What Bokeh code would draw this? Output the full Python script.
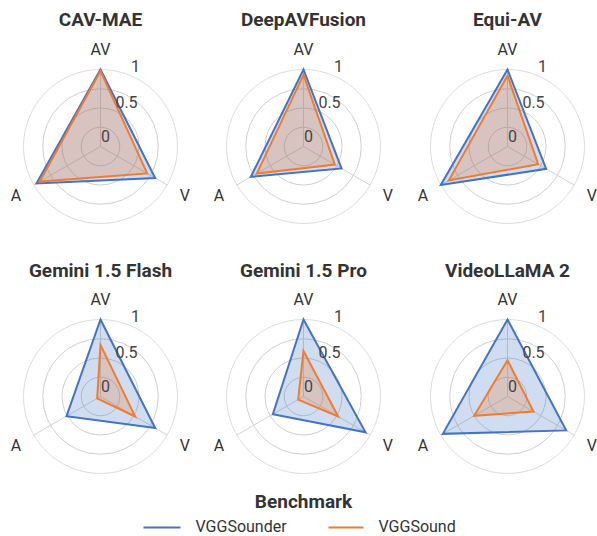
import numpy as np
from bokeh.plotting import figure
from bokeh.models import Range1d
from bokeh.core.properties import value
from bokeh.embed import file_html
from bokeh.resources import INLINE

# ---------------- data ----------------
models = ["CAV-MAE", "DeepAVFusion", "Equi-AV",
          "Gemini 1.5 Flash", "Gemini 1.5 Pro", "VideoLLaMA 2"]
axis_names = ["AV", "V", "A"]
# values in order AV, V, A
vggsounder = [
    [1.00, 0.82, 0.96],
    [1.00, 0.57, 0.79],
    [1.00, 0.58, 1.00],
    [1.00, 0.82, 0.51],
    [1.00, 0.93, 0.46],
    [1.00, 0.88, 0.97],
]
vggsound = [
    [0.98, 0.70, 0.91],
    [0.93, 0.47, 0.70],
    [0.92, 0.46, 0.88],
    [0.67, 0.52, 0.05],
    [0.59, 0.52, 0.08],
    [0.47, 0.39, 0.50],
]
series_names = ["VGGSounder", "VGGSound"]
legend_title = "Benchmark"
tick_values = [0, 0.5, 1]
tick_labels = ["0", "0.5", "1"]
grid_values = [0.25, 0.5, 0.75, 1.0]

# ---------------- style / layout ----------------
W, H = 597, 536
R = 77.0
col_x = [100, 303, 507]
row_y = [146, 396]
title_y = [19, 270]
angles = np.deg2rad([90, -30, 210])
label_r = 97.5
tick_off = [(5, -11), (26, -45), (35, -81)]
colors = ["#4472C4", "#ED7D31"]
FONT = "Roboto"
TXT = "#333333"

p = figure(width=W, height=H, x_range=Range1d(0, W), y_range=Range1d(H, 0),
           output_backend="svg", toolbar_location=None, min_border=0)
p.axis.visible = False
p.grid.visible = False
p.outline_line_color = None
p.background_fill_color = "white"
p.border_fill_color = "white"


def to_xy(cx, cy, vals):
    vals = np.asarray(vals, dtype=float)
    xs = cx + vals * R * np.cos(angles)
    ys = cy - vals * R * np.sin(angles)
    return list(xs), list(ys)


for i, name in enumerate(models):
    cx = col_x[i % 3]
    cy = row_y[i // 3]
    # grid circles
    for g in grid_values:
        p.circle(x=[cx], y=[cy], radius=g * R, fill_color=None,
                 line_color="#dddddd" if g == 1.0 else "#cfcfcf", line_width=1)
    # spokes
    ex, ey = to_xy(cx, cy, [1, 1, 1])
    p.segment(x0=[cx] * 3, y0=[cy] * 3, x1=ex, y1=ey, line_color="#d2d2d2", line_width=1)
    # series
    for vals, col in ((vggsounder[i], colors[0]), (vggsound[i], colors[1])):
        xs, ys = to_xy(cx, cy, vals)
        p.patch(xs + [xs[0]], ys + [ys[0]], fill_color=col, fill_alpha=0.25,
                line_color=col, line_width=2, line_join="miter")
    # axis labels
    lx = [cx + label_r * np.cos(a) for a in angles]
    ly = [cy - label_r * np.sin(a) for a in angles]
    p.text(x=lx, y=ly, text=axis_names, text_font=value(FONT), text_font_size="16px",
           text_align="center", text_baseline="middle", text_color=TXT)
    # tick labels
    tx = [cx + o[0] for o in tick_off]
    ty = [cy + o[1] for o in tick_off]
    p.text(x=tx, y=ty, text=tick_labels, text_font=value(FONT), text_font_size="16px",
           text_align="center", text_baseline="middle", text_color="#444444")
    # title
    p.text(x=[cx], y=[title_y[i // 3]], text=[name], text_font=value(FONT),
           text_font_size="19px", text_font_style="bold", text_align="center",
           text_baseline="middle", text_color=TXT)

# legend (manual, centered title)
p.text(x=[303], y=[501], text=[legend_title], text_font=value(FONT), text_font_size="19px",
       text_font_style="bold", text_align="center", text_baseline="middle", text_color=TXT)
leg_y = 526
leg_line_x = [(143, 180), (328, 363)]
leg_text_x = [195, 378]
for k in range(2):
    p.segment(x0=[leg_line_x[k][0]], y0=[leg_y + 1], x1=[leg_line_x[k][1]], y1=[leg_y + 1],
              line_color=colors[k], line_width=2)
    p.text(x=[leg_text_x[k]], y=[leg_y], text=[series_names[k]], text_font=value(FONT),
           text_font_size="16px", text_align="left", text_baseline="middle", text_color=TXT)

open("out.html", "w").write(file_html(p, INLINE))
